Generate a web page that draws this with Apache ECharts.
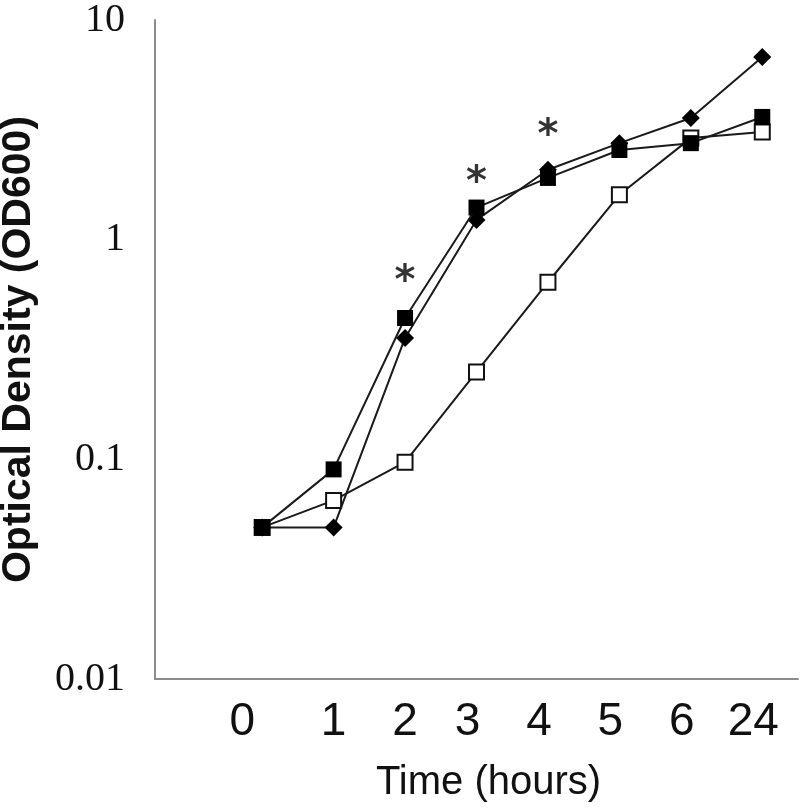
<!DOCTYPE html>
<html>
<head>
<meta charset="utf-8">
<script src="https://cdn.jsdelivr.net/npm/echarts@6/dist/echarts.min.js"></script>
<style>html,body{margin:0;padding:0;background:#fff}#c{width:800px;height:810px}</style>
</head>
<body>
<div id="c"></div>
<script>
// categories (first one is an empty spacer band)
const categories = ['', '0', '1', '2', '3', '4', '5', '6', '24'];
const filledSquare = [null, 0.049, 0.090, 0.44, 1.40, 1.91, 2.56, 2.75, 3.62];
const filledDiamond = [null, 0.049, 0.049, 0.357, 1.23, 2.08, 2.75, 3.58, 6.79];
const openSquare = [null, 0.049, 0.065, 0.097, 0.25, 0.64, 1.60, 2.90, 3.09];
const yTicks = [0.01, 0.1, 1, 10];
const asterisks = [['2', 0.71], ['3', 1.99], ['4', 3.26]];

const chart = echarts.init(document.getElementById('c'));
const lineCol = '#1a1a1a';
const xFont = { fontFamily: '"Liberation Sans", sans-serif', fontSize: 46, color: '#111' };
chart.setOption({
  animation: false,
  grid: { left: 155, right: 2, top: 20, bottom: 131, containLabel: false, outerBoundsMode: 'none' },
  xAxis: {
    type: 'category', data: categories, boundaryGap: true,
    axisLine: { lineStyle: { color: '#8c8c8c', width: 2 } },
    axisTick: { show: false },
    axisLabel: Object.assign({ margin: 20, interval: 0, hideOverlap: false,
      formatter: v => v === '' ? '' : (v === '0' ? '{z|0}' : (v === '1' || v === '2' ? v : '{s|' + v + '}')),
      rich: { z: Object.assign({ padding: [0, 40, 0, 0] }, xFont), s: Object.assign({ padding: [0, 18, 0, 0] }, xFont) }
    }, xFont),
    name: 'Time (hours)', nameLocation: 'middle', nameGap: 84,
    nameTextStyle: { fontFamily: '"Liberation Sans", sans-serif', fontSize: 40, color: '#111', padding: [0, 0, 0, 24] }
  },
  yAxis: {
    type: 'log', logBase: 10, min: 0.01, max: 10,
    axisLine: { show: true, lineStyle: { color: '#8c8c8c', width: 2 } },
    axisTick: { show: false },
    splitLine: { show: false },
    axisLabel: {
      margin: 30, fontFamily: '"Liberation Serif", serif', fontSize: 40, color: '#111',
      formatter: v => { const t = yTicks.find(x => Math.abs(Math.log10(x) - Math.log10(v)) < 1e-6); return t === undefined ? '' : String(t); }
    },
    name: 'Optical Density (OD600)', nameLocation: 'middle', nameGap: 116, nameRotate: 90,
    nameTextStyle: { fontFamily: '"Liberation Sans", sans-serif', fontWeight: 'bold', fontSize: 41, color: '#111' }
  },
  series: [
    { type: 'line', data: openSquare, symbol: 'rect', symbolSize: 15, showAllSymbol: true,
      lineStyle: { color: lineCol, width: 2 }, itemStyle: { color: '#fff', borderColor: '#111', borderWidth: 2 }, z: 2 },
    { type: 'line', data: filledDiamond, symbol: 'diamond', symbolSize: 18, showAllSymbol: true,
      lineStyle: { color: lineCol, width: 2 }, itemStyle: { color: '#000', borderColor: '#000', borderWidth: 0 }, z: 3 },
    { type: 'line', data: filledSquare, symbol: 'rect', symbolSize: 16, showAllSymbol: true,
      lineStyle: { color: lineCol, width: 2 }, itemStyle: { color: '#000', borderColor: '#000', borderWidth: 0 }, z: 4 },
    { type: 'scatter', data: asterisks, symbolSize: 0, silent: true,
      label: { show: true, position: 'inside', formatter: '*', offset: [0, 10], fontFamily: '"DejaVu Sans", sans-serif', fontWeight: 'bold', fontSize: 40, color: '#000' }, z: 5 }
  ]
});
</script>
</body>
</html>
